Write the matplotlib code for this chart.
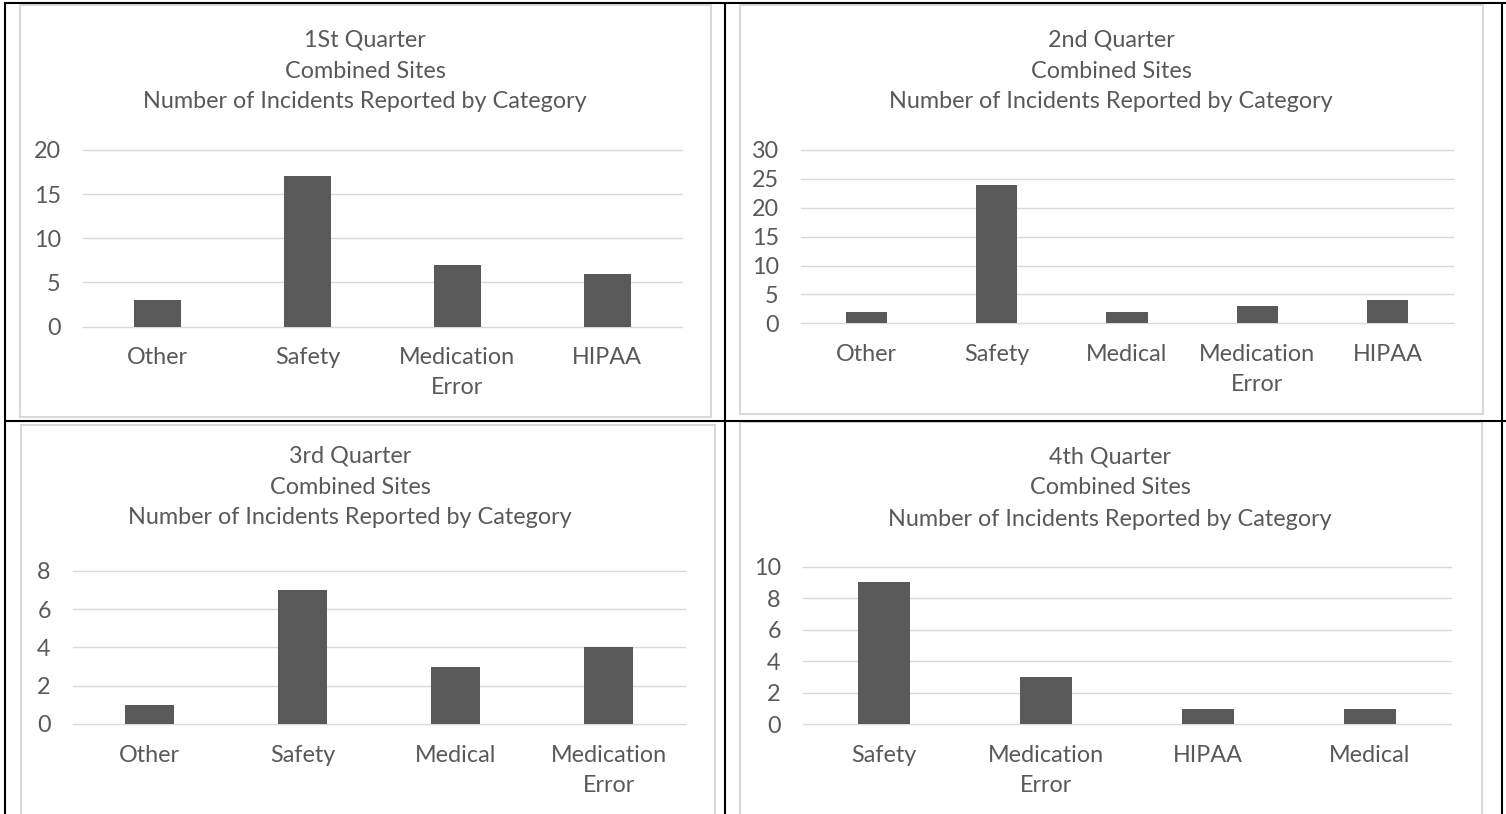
import matplotlib
matplotlib.use("Agg")
import matplotlib.pyplot as plt
from matplotlib.patches import Rectangle
from matplotlib.lines import Line2D
from matplotlib import transforms

# ---- data ----
q1_categories = ["Other", "Safety", "Medication\nError", "HIPAA"]
q1_values = [3, 17, 7, 6]
q1_ticks = [0, 5, 10, 15, 20]

q2_categories = ["Other", "Safety", "Medical", "Medication\nError", "HIPAA"]
q2_values = [2, 24, 2, 3, 4]
q2_ticks = [0, 5, 10, 15, 20, 25, 30]

q3_categories = ["Other", "Safety", "Medical", "Medication\nError"]
q3_values = [1, 7, 3, 4]
q3_ticks = [0, 2, 4, 6, 8]

q4_categories = ["Safety", "Medication\nError", "HIPAA", "Medical"]
q4_values = [9, 3, 1, 1]
q4_ticks = [0, 2, 4, 6, 8, 10]

titles = [
    ["1St Quarter", "Combined Sites", "Number of Incidents Reported by Category"],
    ["2nd Quarter", "Combined Sites", "Number of Incidents Reported by Category"],
    ["3rd Quarter", "Combined Sites", "Number of Incidents Reported by Category"],
    ["4th Quarter", "Combined Sites", "Number of Incidents Reported by Category"],
]

# ---- style ----
W, H = 1506, 814
TEXT = "#595959"
BAR = "#595959"
GRID = "#d9d9d9"
FONT = "Lato"
FS = 16.8

plt.rcParams["font.family"] = [FONT, "DejaVu Sans"]
fig = plt.figure(figsize=(W / 100, H / 100), dpi=100)
fig.patch.set_facecolor("white")


def fx(x):
    return x / W


def fy(y):
    return 1 - y / H


def hline(x0, x1, y, lw, color):
    fig.add_artist(Line2D([fx(x0), fx(x1)], [fy(y), fy(y)], lw=lw, color=color,
                          transform=fig.transFigure, solid_capstyle="butt"))


def vline(x, y0, y1, lw, color):
    fig.add_artist(Line2D([fx(x), fx(x)], [fy(y0), fy(y1)], lw=lw, color=color,
                          transform=fig.transFigure, solid_capstyle="butt"))


# table rules
hline(4, W, 2.7, 1.5, "black")
hline(4, W, 420.8, 1.5, "black")
vline(5, 2, H, 1.5, "black")
vline(725, 2, H, 1.5, "black")
vline(1502, 2, H, 1.5, "black")

# chart frames (x0, y0, x1, y1)
frames = [(19.5, 4.5, 711, 417), (739.5, 4.5, 1483, 414),
          (21, 425, 715, 830), (739.5, 422, 1481.5, 830)]
for (x0, y0, x1, y1) in frames:
    fig.add_artist(Rectangle((fx(x0), fy(y1)), fx(x1 - x0), (y1 - y0) / H,
                             transform=fig.transFigure, facecolor="white",
                             edgecolor=GRID, lw=1.5, zorder=1))

# plot areas: (left, right, top gridline y, zero line y)
areas = [(83, 682, 150, 326.5), (801, 1453, 150, 323.3),
         (73, 685, 570.7, 724), (803, 1451, 566.7, 724.3)]
title_pos = [(365, 40), (1111, 40), (350, 456), (1110, 457)]
datasets = [(q1_categories, q1_values, q1_ticks),
            (q2_categories, q2_values, q2_ticks),
            (q3_categories, q3_values, q3_ticks),
            (q4_categories, q4_values, q4_ticks)]

for (left, right, top, zero), (tx, ty), title, (cats, vals, ticks) in zip(
        areas, title_pos, titles, datasets):
    ax = fig.add_axes([fx(left), fy(zero), fx(right - left), (zero - top) / H])
    ax.set_zorder(2)
    ax.patch.set_alpha(0)
    n = len(cats)
    ax.set_xlim(-0.5, n - 0.5)
    ax.set_ylim(ticks[0], ticks[-1])
    for t in ticks:
        ax.axhline(t, color=GRID, lw=1.0, zorder=1, clip_on=False)
    ax.bar(range(n), vals, width=0.315, color=BAR, zorder=2)
    for s in ax.spines.values():
        s.set_visible(False)
    ax.set_xticks([])
    ax.set_yticks(ticks)
    ax.set_yticklabels([str(t) for t in ticks], fontsize=FS, color=TEXT)
    ax.tick_params(axis="y", length=0, pad=16)

    # category labels under each bar
    trans = transforms.blended_transform_factory(ax.transData, fig.transFigure)
    for i, c in enumerate(cats):
        for k, line in enumerate(c.split("\n")):
            ax.text(i, fy(zero + 31 + 30 * k), line, transform=trans,
                    ha="center", va="center", fontsize=FS, color=TEXT,
                    clip_on=False)

    # three-line chart title
    for k, line in enumerate(title):
        fig.text(fx(tx), fy(ty + 31 * k), line, ha="center", va="center",
                 fontsize=FS, color=TEXT, zorder=3)

fig.savefig("out.png", dpi=100, facecolor="white")
